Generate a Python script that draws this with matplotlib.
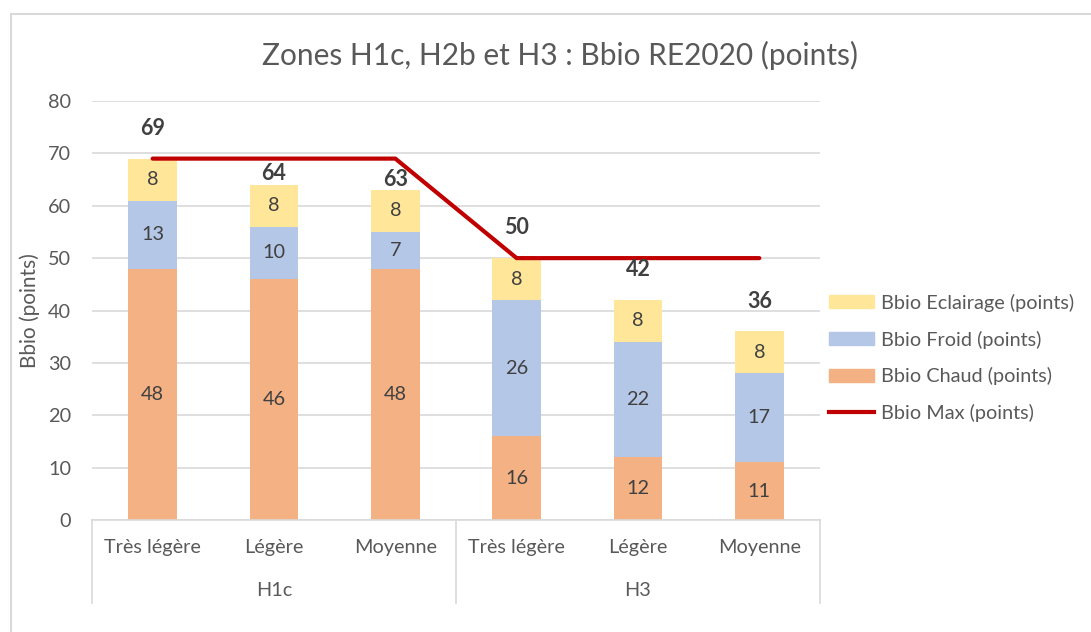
import matplotlib.pyplot as plt
from matplotlib.patches import Rectangle
from matplotlib.lines import Line2D
import numpy as np

categories = ['Très légère', 'Légère', 'Moyenne', 'Très légère', 'Légère', 'Moyenne']
groups = ['H1c', 'H3']
chaud = [48, 46, 48, 16, 12, 11]
froid = [13, 10, 7, 26, 22, 17]
eclairage = [8, 8, 8, 8, 8, 8]
bbio_max = [69, 69, 69, 50, 50, 50]

c_chaud = '#F4B183'
c_froid = '#B4C7E7'
c_ecl = '#FFE699'
c_max = '#C00000'
txt = '#595959'
plt.rcParams['font.family'] = ['Lato', 'DejaVu Sans']

fig = plt.figure(figsize=(10.91, 6.32), dpi=100)
# cadre gris du graphique
fig.patches.append(Rectangle((11 / 1091, -0.1), 1.2, 1 - 14 / 632 + 0.1, transform=fig.transFigure,
                             fill=False, edgecolor='#D9D9D9', linewidth=1.5))
ax = fig.add_axes([92 / 1091, 1 - 520 / 632, 728 / 1091, 419 / 632])

x = np.arange(len(categories))
w = 0.4
chaud = np.array(chaud)
froid = np.array(froid)
eclairage = np.array(eclairage)
total = chaud + froid + eclairage

ax.bar(x, chaud, w, color=c_chaud, zorder=2)
ax.bar(x, froid, w, bottom=chaud, color=c_froid, zorder=2)
ax.bar(x, eclairage, w, bottom=chaud + froid, color=c_ecl, zorder=2)
ax.plot(x, bbio_max, color=c_max, lw=3, solid_capstyle='round', solid_joinstyle='round', zorder=3)

# étiquettes dans les barres
fs = 14.3
for i in range(len(x)):
    ax.text(x[i], chaud[i] / 2, str(chaud[i]), ha='center', va='center', fontsize=fs, color='#404040', zorder=4)
    ax.text(x[i], chaud[i] + froid[i] / 2, str(froid[i]), ha='center', va='center', fontsize=fs, color='#404040', zorder=4)
    ax.text(x[i], chaud[i] + froid[i] + eclairage[i] / 2, str(eclairage[i]), ha='center', va='center',
            fontsize=fs, color='#404040', zorder=4)
    # total au-dessus ; sous la courbe Bbio Max si elle passe juste au-dessus de la barre
    yl = total[i] + 5.8
    if total[i] < bbio_max[i] <= yl + 1:
        yl = total[i] + 2.1
    ax.text(x[i], yl, str(total[i]), ha='center', va='center', fontsize=15.5,
            fontweight='bold', color='#404040', zorder=4)

ax.set_xlim(-0.5, 5.5)
ax.set_ylim(0, 80)
ax.set_yticks(range(0, 81, 10))
ax.yaxis.grid(True, color='#D9D9D9', lw=1.2, zorder=0)
ax.set_axisbelow(True)
for s in ['top', 'right', 'left']:
    ax.spines[s].set_visible(False)
ax.spines['bottom'].set_color('#D9D9D9')
ax.spines['bottom'].set_linewidth(1.2)
ax.tick_params(axis='both', length=0, labelsize=fs, labelcolor=txt)
ax.tick_params(axis='y', pad=15)
ax.set_xticks(x)
ax.set_xticklabels(categories)
ax.tick_params(axis='x', pad=14)

# libellés de groupes et séparateurs
tr = ax.get_xaxis_transform()
for gx in [-0.5, 2.5, 5.5]:
    ax.plot([gx, gx], [0, -0.198], color='#D9D9D9', lw=1.2, transform=tr, clip_on=False)
for gi, g in enumerate(groups):
    ax.text(gi * 3 + 1, -0.169, g, transform=tr, ha='center', va='center', fontsize=fs, color=txt)

ax.set_ylabel('Bbio (points)', fontsize=15, color=txt)
ax.yaxis.set_label_coords(-0.071, 0.5)
fig.text(560 / 1091, 1 - 55 / 632, 'Zones H1c, H2b et H3 : Bbio RE2020 (points)', ha='center', va='center',
         fontsize=21.5, color=txt)

handles = [Rectangle((0, 0), 1, 1, color=c_ecl), Rectangle((0, 0), 1, 1, color=c_froid),
           Rectangle((0, 0), 1, 1, color=c_chaud), Line2D([], [], color=c_max, lw=3)]
labels = ['Bbio Eclairage (points)', 'Bbio Froid (points)', 'Bbio Chaud (points)', 'Bbio Max (points)']
leg = ax.legend(handles, labels, loc='center left', bbox_to_anchor=(1.012, 0.387), frameon=False,
                fontsize=fs, labelcolor=txt, handlelength=2.3, handleheight=0.65, handletextpad=0.35,
                labelspacing=0.94, borderpad=0, borderaxespad=0)

fig.savefig('out.png', dpi=100)
